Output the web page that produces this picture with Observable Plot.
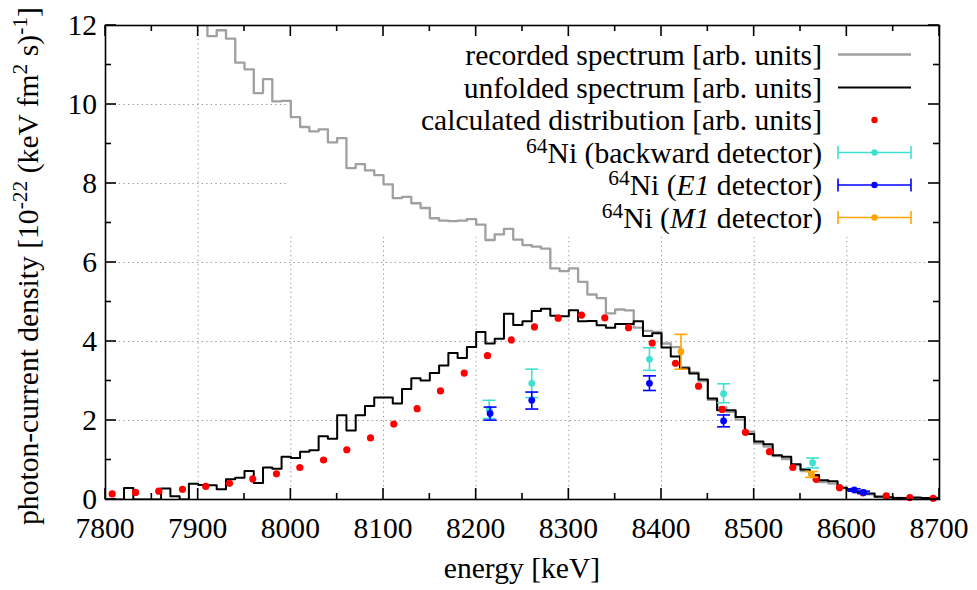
<!DOCTYPE html>
<html>
<head>
<meta charset="utf-8">
<script src="https://cdn.jsdelivr.net/npm/d3@7"></script>
<script src="https://cdn.jsdelivr.net/npm/@observablehq/plot@0.6"></script>
<style>
  body { margin: 0; background: #fff; }
  #chart svg { display: block; }
</style>
</head>
<body>
<div id="chart"></div>
<script>
// ---------------- data ----------------
// unfolded spectrum: 10 keV bins, value of each bin starting at unfoldedEnergy
const unfoldedEnergy = [7800,7810,7820,7830,7840,7850,7860,7870,7880,7890,
  7900,7910,7920,7930,7940,7950,7960,7970,7980,7990,
  8000,8010,8020,8030,8040,8050,8060,8070,8080,8090,
  8100,8110,8120,8130,8140,8150,8160,8170,8180,8190,
  8200,8210,8220,8230,8240,8250,8260,8270,8280,8290,
  8300,8310,8320,8330,8340,8350,8360,8370,8380,8390,
  8400,8410,8420,8430,8440,8450,8460,8470,8480,8490,
  8500,8510,8520,8530,8540,8550,8560,8570,8580,8590,
  8600,8610,8620,8630,8640,8650,8660,8670,8680,8690];
const unfoldedValue = [0,0,0.29,0,0,0,0.28,0.08,0,0.40,
  0.37,0.36,0.26,0.51,0.55,0.72,0.42,0.81,0.78,1.08,
  1.05,1.21,1.25,1.60,1.54,2.13,1.75,2.13,2.37,2.58,
  2.58,2.43,2.80,3.07,3.01,3.20,3.39,3.71,3.58,3.86,
  4.24,3.95,4.07,4.70,4.42,4.51,4.77,4.83,4.65,4.64,
  4.79,4.51,4.52,4.41,4.35,4.44,4.44,4.51,4.14,4.21,
  3.85,3.62,3.32,3.19,3.04,2.56,2.26,2.26,2.09,1.66,
  1.47,1.40,1.12,1.08,0.89,0.76,0.62,0.49,0.46,0.30,
  0.25,0.19,0.15,0.07,0.06,0.04,0.04,0.05,0.04,0.04];

// recorded spectrum (clipped above 12 below 7910 keV)
const recordedEnergy = [7900,7910,7920,7930,7940,7950,7960,7970,7980,7990,
  8000,8010,8020,8030,8040,8050,8060,8070,8080,8090,
  8100,8110,8120,8130,8140,8150,8160,8170,8180,8190,
  8200,8210,8220,8230,8240,8250,8260,8270,8280,8290,
  8300,8310,8320,8330,8340,8350,8360,8370,8380,8390,
  8400,8410,8420,8430,8440,8450,8460,8470,8480,8490,
  8500,8510,8520,8530,8540,8550,8560,8570,8580,8590,
  8600,8610,8620,8630,8640,8650,8660,8670,8680,8690];
const recordedValue = [12.3,11.73,11.88,11.67,11.06,10.89,10.29,10.64,10.08,10.09,
  9.68,9.43,9.32,9.37,9.04,9.15,8.39,8.49,8.33,8.21,
  7.98,7.63,7.66,7.50,7.38,7.12,7.06,7.05,7.06,7.10,
  6.96,6.57,6.71,6.85,6.58,6.44,6.40,6.35,5.85,5.78,
  5.85,5.51,5.19,5.10,4.71,4.81,4.79,4.35,4.27,4.24,
  3.95,3.86,3.35,3.22,3.00,2.52,2.33,2.22,2.02,1.72,
  1.42,1.34,1.10,1.02,0.87,0.72,0.60,0.44,0.40,0.30,
  0.22,0.18,0.13,0.08,0.05,0.04,0.03,0.03,0.03,0.03];
const spectrumEnd = 8700;

// calculated distribution
const calcEnergy = [7807.2,7832.4,7857.5,7883.1,7908.2,7933.8,7959.0,7984.5,8009.7,8035.3,
  8060.4,8086.0,8111.1,8136.3,8161.5,8187.1,8212.2,8237.8,8262.9,8288.5,
  8313.7,8338.8,8364.4,8390.0,8415.1,8440.0,8465.5,8490.6,8516.5,8541.7,
  8566.9,8592.1,8617.4,8642.5,8668.0,8693.2];
const calcValue = [0.14,0.18,0.21,0.26,0.33,0.41,0.52,0.65,0.81,1.00,
  1.26,1.56,1.91,2.30,2.75,3.20,3.64,4.04,4.37,4.59,
  4.67,4.60,4.35,3.96,3.45,2.87,2.28,1.70,1.21,0.81,
  0.51,0.30,0.17,0.09,0.05,0.03];

// 64Ni backward detector
const backEnergy = [8214, 8260, 8387, 8467, 8563];
const backValue  = [2.28, 2.94, 3.55, 2.68, 0.93];
const backLow    = [2.05, 2.58, 3.27, 2.45, 0.80];
const backHigh   = [2.51, 3.30, 3.84, 2.93, 1.05];

// 64Ni E1 detector
const e1Energy = [8215, 8260, 8387, 8467, 8608, 8618];
const e1Value  = [2.18, 2.51, 2.94, 1.99, 0.24, 0.18];
const e1Low    = [2.01, 2.29, 2.76, 1.84, 0.21, 0.15];
const e1High   = [2.34, 2.72, 3.13, 2.14, 0.27, 0.21];

// 64Ni M1 detector
const m1Energy = [8421, 8562];
const m1Value  = [3.74, 0.64];
const m1Low    = [3.30, 0.56];
const m1High   = [4.18, 0.71];

// axes
const xMajorTicks = [7800,7900,8000,8100,8200,8300,8400,8500,8600,8700];
const xMinorTicks = [7850,7950,8050,8150,8250,8350,8450,8550,8650];
const yMajorTicks = [0,2,4,6,8,10,12];
const yMinorTicks = [1,3,5,7,9,11];
const xGridTicks = [7900,8000,8100,8200,8300,8400,8500,8600];
const yGridTicks = [2,4,6,8,10];

// ---------------- build ----------------
const FONT = "'Liberation Serif', 'Times New Roman', serif";
const FS = 29.6;
const SUP = 21.5;
const COLORS = {recorded: "#a0a0a0", unfolded: "#000000", calc: "#ff0000",
  back: "#40e0d0", e1: "#0000ff", m1: "#ffa500"};

function steps(energy, value) {
  const pts = energy.map((e, i) => ({e, v: value[i]}));
  pts.push({e: spectrumEnd, v: value[value.length - 1]});
  return pts;
}
function series(energy, value, low, high) {
  return energy.map((e, i) => ({e, v: value[i], lo: low ? low[i] : null, hi: high ? high[i] : null}));
}
const recordedPts = steps(recordedEnergy, recordedValue);
const unfoldedPts = steps(unfoldedEnergy, unfoldedValue);
const calcPts = series(calcEnergy, calcValue);
const backPts = series(backEnergy, backValue, backLow, backHigh);
const e1Pts = series(e1Energy, e1Value, e1Low, e1High);
const m1Pts = series(m1Energy, m1Value, m1Low, m1High);

// key box (opaque, hides the grid only) in data units
const keyBox = [{x1: 7998, x2: 8700, y1: 6.64, y2: 12}];

const cap = { draw(ctx) { ctx.moveTo(-6.5, 0); ctx.lineTo(6.5, 0); } };

function errorMarks(data, color) {
  return [
    Plot.ruleX(data, {x: "e", y1: "lo", y2: "hi", stroke: color, strokeWidth: 1.6}),
    Plot.dot(data, {x: "e", y: "lo", symbol: cap, r: 4, stroke: color, strokeWidth: 1.6, fill: "none"}),
    Plot.dot(data, {x: "e", y: "hi", symbol: cap, r: 4, stroke: color, strokeWidth: 1.6, fill: "none"}),
    Plot.dot(data, {x: "e", y: "v", r: 3.4, fill: color, stroke: "none"})
  ];
}

const plot = Plot.plot({
  width: 977,
  height: 590,
  marginLeft: 105,
  marginRight: 38,
  marginTop: 25,
  marginBottom: 91,
  x: {domain: [7800, 8700], axis: null},
  y: {domain: [0, 12], axis: null},
  style: {background: "white", fontFamily: FONT},
  marks: [
    Plot.ruleX(xGridTicks, {stroke: "#959595", strokeWidth: 1, strokeDasharray: "1.3,3.3"}),
    Plot.ruleY(yGridTicks, {stroke: "#959595", strokeWidth: 1, strokeDasharray: "1.3,3.3"}),
    Plot.rect(keyBox, {x1: "x1", x2: "x2", y1: "y1", y2: "y2", fill: "white"}),
    Plot.line(recordedPts, {x: "e", y: "v", curve: "step-after", stroke: COLORS.recorded, strokeWidth: 2.3, clip: true}),
    Plot.line(unfoldedPts, {x: "e", y: "v", curve: "step-after", stroke: COLORS.unfolded, strokeWidth: 2, clip: true}),
    Plot.dot(calcPts, {x: "e", y: "v", r: 3.6, fill: COLORS.calc, stroke: "none"}),
    ...errorMarks(backPts, COLORS.back),
    ...errorMarks(e1Pts, COLORS.e1),
    ...errorMarks(m1Pts, COLORS.m1),
    Plot.frame({stroke: "black", strokeWidth: 1.6})
  ]
});

// ---------- ticks, labels and key drawn with the plot's own scales ----------
const xs = plot.scale("x"), ys = plot.scale("y");
const sx = d3.scaleLinear(xs.domain, xs.range);
const sy = d3.scaleLinear(ys.domain, ys.range);
const [X0, X1] = xs.range;
const Y0 = Math.max(...ys.range), Y1 = Math.min(...ys.range);

const svg = d3.select(plot);
const g = svg.append("g").attr("stroke", "black").attr("stroke-width", 1.6);
const MAJ = 11, MIN = 6;
for (const v of xMajorTicks.concat(xMinorTicks)) {
  const L = xMajorTicks.includes(v) ? MAJ : MIN;
  g.append("line").attr("x1", sx(v)).attr("x2", sx(v)).attr("y1", Y0).attr("y2", Y0 - L);
  g.append("line").attr("x1", sx(v)).attr("x2", sx(v)).attr("y1", Y1).attr("y2", Y1 + L);
}
for (const v of yMajorTicks.concat(yMinorTicks)) {
  const L = yMajorTicks.includes(v) ? MAJ : MIN;
  g.append("line").attr("y1", sy(v)).attr("y2", sy(v)).attr("x1", X0).attr("x2", X0 + L);
  g.append("line").attr("y1", sy(v)).attr("y2", sy(v)).attr("x1", X1).attr("x2", X1 - L);
}

const t = svg.append("g").attr("font-family", FONT).attr("font-size", FS).attr("fill", "black");
for (const v of xMajorTicks) {
  t.append("text").attr("x", sx(v)).attr("y", Y0 + 39).attr("text-anchor", "middle").text(v);
}
for (const v of yMajorTicks) {
  t.append("text").attr("x", X0 - 8).attr("y", sy(v)).attr("dy", "0.34em").attr("text-anchor", "end").text(v);
}
t.append("text").attr("x", (X0 + X1) / 2).attr("y", Y0 + 79).attr("text-anchor", "middle").text("energy [keV]");

const yl = t.append("text").attr("text-anchor", "middle")
  .attr("transform", `translate(38,${(Y0 + Y1) / 2 + 4}) rotate(-90)`);
yl.append("tspan").text("photon-current density [10");
yl.append("tspan").attr("dy", -11).attr("font-size", SUP).text("-22");
yl.append("tspan").attr("dy", 11).text(" (keV fm");
yl.append("tspan").attr("dy", -11).attr("font-size", SUP).text("2");
yl.append("tspan").attr("dy", 11).text(" s)");
yl.append("tspan").attr("dy", -11).attr("font-size", SUP).text("-1");
yl.append("tspan").attr("dy", 11).text("]");

// key
const key = svg.append("g").attr("font-family", FONT).attr("font-size", FS);
const KX = 822, SX1 = 838, SX2 = 911, SXC = (SX1 + SX2) / 2;
const rows = [54.5, 87.5, 120, 152.5, 185, 217.5];
function keyText(y, parts) {
  const tx = key.append("text").attr("x", KX).attr("y", y + 10).attr("text-anchor", "end");
  for (const p of parts) {
    const s = tx.append("tspan").text(p.t);
    if (p.sup) s.attr("font-size", SUP).attr("dy", -10);
    if (p.down) s.attr("dy", 10);
    if (p.it) s.attr("font-style", "italic");
  }
}
keyText(rows[0], [{t: "recorded spectrum [arb. units]"}]);
keyText(rows[1], [{t: "unfolded spectrum [arb. units]"}]);
keyText(rows[2], [{t: "calculated distribution [arb. units]"}]);
keyText(rows[3], [{t: "64", sup: true}, {t: "Ni (backward detector)", down: true}]);
keyText(rows[4], [{t: "64", sup: true}, {t: "Ni (", down: true}, {t: "E1", it: true}, {t: " detector)"}]);
keyText(rows[5], [{t: "64", sup: true}, {t: "Ni (", down: true}, {t: "M1", it: true}, {t: " detector)"}]);

key.append("line").attr("x1", SX1).attr("x2", SX2).attr("y1", rows[0]).attr("y2", rows[0])
  .attr("stroke", COLORS.recorded).attr("stroke-width", 2.3);
key.append("line").attr("x1", SX1).attr("x2", SX2).attr("y1", rows[1]).attr("y2", rows[1])
  .attr("stroke", COLORS.unfolded).attr("stroke-width", 2);
key.append("circle").attr("cx", SXC).attr("cy", rows[2]).attr("r", 3.2).attr("fill", COLORS.calc);
[[rows[3], COLORS.back], [rows[4], COLORS.e1], [rows[5], COLORS.m1]].forEach(([y, c]) => {
  const kg = key.append("g").attr("stroke", c).attr("stroke-width", 1.6);
  kg.append("line").attr("x1", SX1).attr("x2", SX2).attr("y1", y).attr("y2", y);
  kg.append("line").attr("x1", SX1).attr("x2", SX1).attr("y1", y - 6.5).attr("y2", y + 6.5);
  kg.append("line").attr("x1", SX2).attr("x2", SX2).attr("y1", y - 6.5).attr("y2", y + 6.5);
  key.append("circle").attr("cx", SXC).attr("cy", y).attr("r", 3.2).attr("fill", c);
});

document.getElementById("chart").appendChild(plot);
</script>
</body>
</html>
